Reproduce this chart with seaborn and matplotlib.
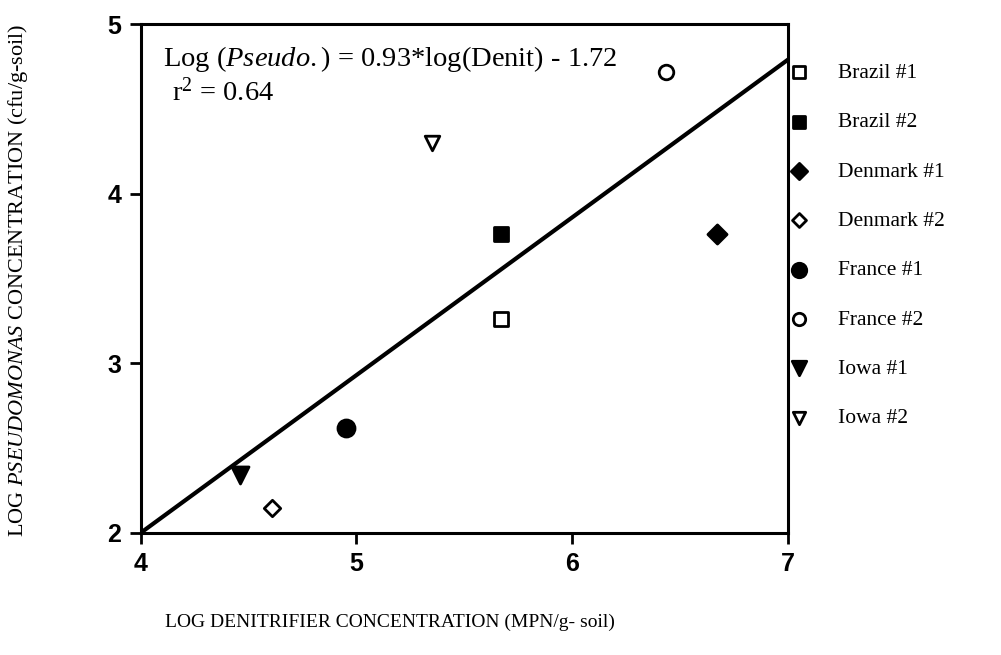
import numpy as np
import pandas as pd
import matplotlib
matplotlib.use("Agg")
import matplotlib.pyplot as plt
import seaborn as sns

# ---- data ----
sites = ["Brazil #1", "Brazil #2", "Denmark #1", "Denmark #2",
         "France #1", "France #2", "Iowa #1", "Iowa #2"]
log_denit = [5.67, 5.67, 6.67, 4.61, 4.95, 6.435, 4.46, 5.35]
log_pseudo = [3.26, 3.76, 3.76, 2.15, 2.62, 4.72, 2.34, 4.30]
slope = 0.93
intercept = -1.72
r_squared = 0.64
x_ticks = [4, 5, 6, 7]
y_ticks = [2, 3, 4, 5]

marker_shapes = ["s", "s", "D", "D", "o", "o", "v", "v"]
filled = [False, True, True, False, True, False, True, False]
marker_sizes = [90, 110, 95, 70, 150, 110, 150, 110]

sns.set_style("ticks")
plt.rcParams["font.family"] = ["Liberation Serif", "DejaVu Serif"]
plt.rcParams["mathtext.fontset"] = "custom"
plt.rcParams["mathtext.rm"] = "Liberation Serif"
plt.rcParams["mathtext.it"] = "Liberation Serif:italic"
plt.rcParams["mathtext.bf"] = "Liberation Serif:bold"

fig = plt.figure(figsize=(10.01, 6.55), dpi=100)
ax = fig.add_axes([140.5 / 1001, 1 - 533 / 655, (788 - 140.5) / 1001, (533 - 24) / 655])

df = pd.DataFrame({"site": sites, "x": log_denit, "y": log_pseudo})

# regression line
xfit = np.array([4.0, 7.0])
sns.lineplot(x=xfit, y=slope * xfit + intercept, color="black", linewidth=3.0, ax=ax, zorder=2)

for i, s in enumerate(sites):
    sub = df[df["site"] == s]
    sns.scatterplot(data=sub, x="x", y="y", marker=marker_shapes[i], s=marker_sizes[i],
                    color="black", facecolor="black" if filled[i] else "white",
                    edgecolor="black", linewidth=2.0, label=s, ax=ax, zorder=3)

ax.set_xlim(4, 7)
ax.set_ylim(2, 5)
ax.set_xticks(x_ticks)
ax.set_yticks(y_ticks)
ax.set_xticklabels([str(t) for t in x_ticks], fontfamily="Liberation Sans", fontweight="bold",
                   fontsize=18, color="black")
ax.set_yticklabels([str(t) for t in y_ticks], fontfamily="Liberation Sans", fontweight="bold",
                   fontsize=18, color="black")
ax.tick_params(axis="both", direction="out", length=8, width=2, color="black", pad=6,
               labelcolor="black")
for sp in ax.spines.values():
    sp.set_visible(True)
    sp.set_linewidth(2.2)
    sp.set_color("black")

ax.set_xlabel("LOG DENITRIFIER CONCENTRATION (MPN/g- soil)", fontsize=14, color="black")
ax.xaxis.set_label_coords((390 - 140.5) / 647.5, (533 - 622) / 509)
ax.xaxis.label.set_va("center")
ax.set_ylabel(r"LOG $\mathit{PSEUDOMONAS}$ CONCENTRATION (cfu/g-soil)", fontsize=16, color="black")
ax.yaxis.set_label_coords((18 - 140.5) / 647.5, (533 - 280) / 509)
ax.yaxis.label.set_va("center")

ax.text(0.035, 0.917, r"Log ($\mathit{Pseudo.}$) = %.2f*log(Denit) - %.2f" % (slope, -intercept),
        transform=ax.transAxes, fontsize=20.5, va="baseline", ha="left", color="black")
ax.text(0.049, 0.849, r"r$^{2}$ = %.2f" % r_squared,
        transform=ax.transAxes, fontsize=20.5, va="baseline", ha="left", color="black")

leg = ax.legend(loc="upper left", bbox_to_anchor=(0.977, 0.953), frameon=False,
                fontsize=15.5, labelspacing=1.36, handletextpad=1.3, borderaxespad=0.3,
                handlelength=1.0, markerscale=0.85)
for t in leg.get_texts():
    t.set_color("black")

fig.savefig("out.png", dpi=100, facecolor="white")
